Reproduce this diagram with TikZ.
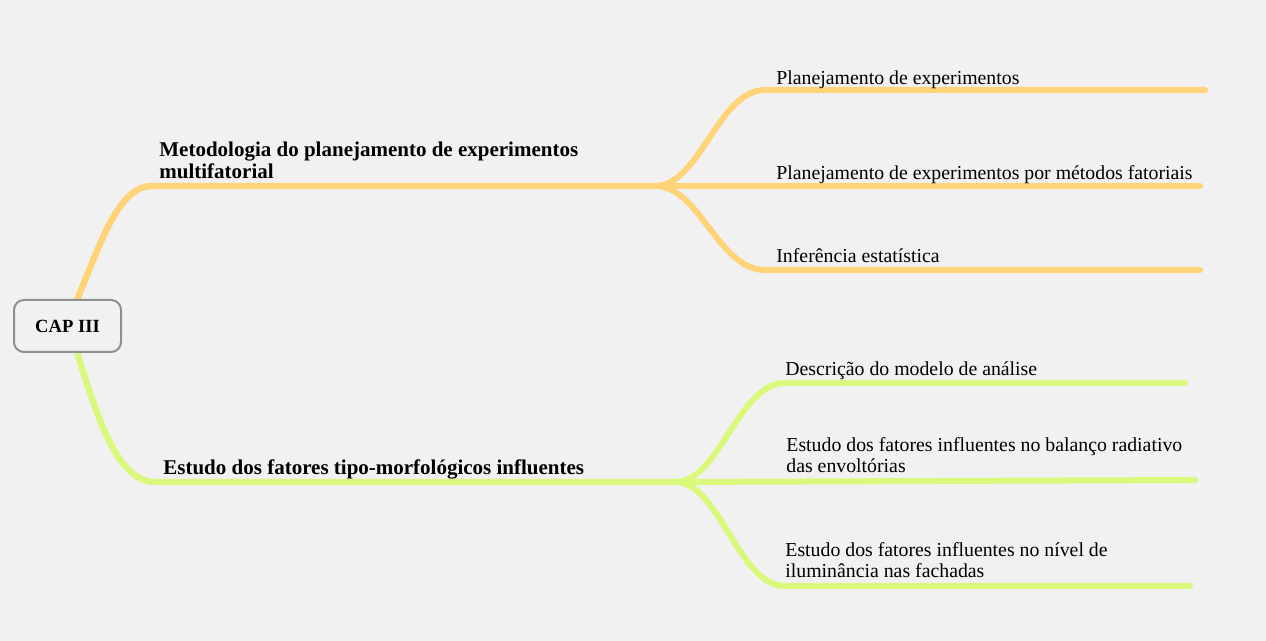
\documentclass[tikz,border=0pt]{standalone}
\usepackage{fontspec}
\setmainfont{Liberation Serif}
\usepackage{xcolor}
\usepackage{tikz}
\usetikzlibrary{backgrounds}
\definecolor{pagegray}{HTML}{F1F1F1}
\definecolor{boxgray}{HTML}{8F8F8F}
\definecolor{orangeline}{HTML}{FFD479}
\definecolor{limeline}{HTML}{DAF97C}
\begin{document}
\begin{tikzpicture}[
  x=0.5pt, y=-0.5pt,
  capbox/.style={draw=boxgray, fill=pagegray, line width=1pt, rounded corners=5pt, minimum width=53.5pt, minimum height=26pt, font=\bfseries\fontsize{9.3}{11}\selectfont},
  mainlabel/.style={anchor=base west, inner sep=0pt, align=left, font=\bfseries\fontsize{10.5}{11}\selectfont},
  sublabel/.style={anchor=base west, inner sep=0pt, align=left, font=\fontsize{9.9}{10.5}\selectfont},
  orangebranch/.style={draw=orangeline, line width=3pt, line cap=round},
  limebranch/.style={draw=limeline, line width=3pt, line cap=round}
]
\useasboundingbox (0,0) rectangle (1266,641);

\node[capbox] (root) at (67.5,326) {CAP III};

\node[mainlabel] (metodologia) at (159,179) {Metodologia do planejamento de experimentos\\multifatorial};
\node[sublabel] (plan) at (776,85) {Planejamento de experimentos};
\node[sublabel] (fatoriais) at (776,180) {Planejamento de experimentos por métodos fatoriais};
\node[sublabel] (inferencia) at (776,263) {Inferência estatística};

\node[mainlabel] (estudo) at (163,475) {Estudo dos fatores tipo-morfológicos influentes};
\node[sublabel] (descricao) at (785,376) {Descrição do modelo de análise};
\node[sublabel] (balanco) at (786,473) {Estudo dos fatores influentes no balanço radiativo\\das envoltórias};
\node[sublabel] (iluminancia) at (785,578) {Estudo dos fatores influentes no nível de\\iluminância nas fachadas};

\coordinate (mhub) at (655,186);
\coordinate (mend1) at (1205,90);
\coordinate (mend2) at (1200,186);
\coordinate (mend3) at (1200,270);
\coordinate (ghub) at (675,482);
\coordinate (gend1) at (1185,383);
\coordinate (gend2) at (1195,480);
\coordinate (gend3) at (1190,586);

\begin{scope}[on background layer]
\fill[pagegray] (0,0) rectangle (1266,641);
\draw[orangebranch, line width=3.2pt] (root.70) .. controls (100,245) and (118,186) .. (152,186) -- (mhub);
\draw[orangebranch] (mhub) .. controls (700,186) and (718,90) .. (765,90) -- (mend1);
\draw[orangebranch] (mhub) -- (mend2);
\draw[orangebranch] (mhub) .. controls (700,186) and (718,270) .. (765,270) -- (mend3);
\draw[limebranch, line width=3.2pt] (root.-70) .. controls (98,420) and (118,482) .. (155,482) -- (ghub);
\draw[limebranch] (ghub) .. controls (720,482) and (738,383) .. (785,383) -- (gend1);
\draw[limebranch] (ghub) -- (gend2);
\draw[limebranch] (ghub) .. controls (720,482) and (738,586) .. (785,586) -- (gend3);
\end{scope}
\end{tikzpicture}
\end{document}
